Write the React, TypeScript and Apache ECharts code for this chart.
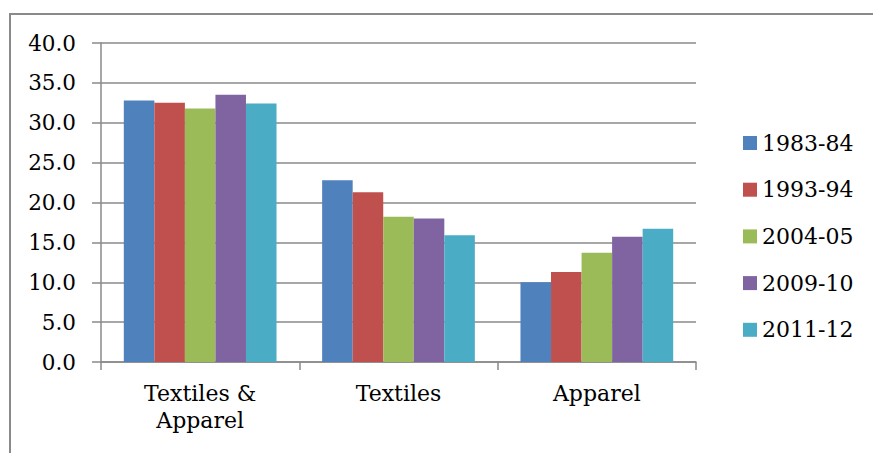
import React, { useEffect, useRef } from "react";
import * as echarts from "echarts";

// Share of employment by segment, across survey years
const categories = ["Textiles &\nApparel", "Textiles", "Apparel"];
const years = ["1983-84", "1993-94", "2004-05", "2009-10", "2011-12"];
const values1983 = [32.8, 22.8, 10.0];
const values1993 = [32.5, 21.3, 11.3];
const values2004 = [31.8, 18.2, 13.7];
const values2009 = [33.5, 18.0, 15.7];
const values2011 = [32.4, 15.9, 16.7];
const seriesValues = [values1983, values1993, values2004, values2009, values2011];
const colors = ["#4F81BD", "#C0504D", "#9BBB59", "#8064A2", "#4BACC6"];

const FONT = "DejaVu Serif";
const GRAY = "#8a8a8a";

export default function App() {
  const ref = useRef<HTMLDivElement>(null);

  useEffect(() => {
    if (!ref.current) return;
    const chart = echarts.init(ref.current, null, { renderer: "svg" });
    chart.setOption({
      animation: false,
      backgroundColor: "#ffffff",
      color: colors,
      graphic: [
        {
          type: "rect",
          shape: { x: 10, y: 14, width: 1000, height: 1000 },
          style: { fill: "none", stroke: GRAY, lineWidth: 2 },
          silent: true,
        },
      ],
      grid: {
        left: 101,
        right: 177,
        top: 43,
        bottom: 91,
        outerBoundsMode: "none",
      },
      legend: {
        orient: "vertical",
        left: 738,
        top: 126,
        icon: "rect",
        itemWidth: 14,
        itemHeight: 14,
        itemGap: 22.7,
        textStyle: {
          fontFamily: FONT,
          fontSize: 22,
          lineHeight: 24,
          color: "#000",
        },
        data: years,
      },
      xAxis: {
        type: "category",
        data: categories,
        axisLine: { show: true, lineStyle: { color: GRAY, width: 1.5 } },
        axisTick: { show: true, length: 8, lineStyle: { color: GRAY, width: 1.5 } },
        axisLabel: {
          fontFamily: FONT,
          fontSize: 22,
          lineHeight: 27,
          color: "#000",
          margin: 18,
        },
      },
      yAxis: {
        type: "value",
        min: 0,
        max: 40,
        interval: 5,
        axisLine: { show: true, lineStyle: { color: GRAY, width: 1.5 } },
        axisTick: { show: true, length: 9, lineStyle: { color: GRAY, width: 1.5 } },
        splitLine: { show: true, lineStyle: { color: GRAY, width: 1.5 } },
        axisLabel: {
          fontFamily: FONT,
          fontSize: 21.5,
          color: "#000",
          margin: 25,
          formatter: (v: number) => v.toFixed(1),
        },
      },
      series: years.map((name, i) => ({
        name,
        type: "bar",
        data: seriesValues[i],
        barGap: "0%",
        barCategoryGap: "23%",
        itemStyle: { color: colors[i] },
      })),
    });
    return () => chart.dispose();
  }, []);

  return (
    <div
      ref={ref}
      style={{ position: "absolute", left: 0, top: 0, width: 873, height: 453 }}
    />
  );
}
